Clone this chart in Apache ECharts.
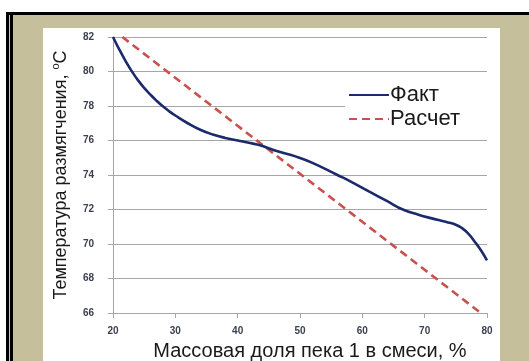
<!DOCTYPE html>
<html>
<head>
<meta charset="utf-8">
<script src="https://cdn.jsdelivr.net/npm/echarts@6/dist/echarts.min.js"></script>
<style>
  html, body { margin: 0; padding: 0; background: #fff; }
  #chart { width: 529px; height: 361px; }
</style>
</head>
<body>
<div id="chart"></div>
<script>
// Softening temperature vs. mass share of pitch 1 in the blend
const xTicks = [20, 30, 40, 50, 60, 70, 80];
const yTicks = [66, 68, 70, 72, 74, 76, 78, 80, 82];

// measured curve ("Факт"): share, %  ->  temperature, °C
const factShare = [20, 21, 22, 23, 24, 25, 26, 27, 28, 29, 30, 32, 34, 36, 38, 40, 42, 43.6, 46, 49.5, 52, 56, 58, 61.2, 64, 66.5, 69, 71, 73.5, 75, 76, 77, 78, 79, 80];
const factTemp  = [82, 81.28, 80.62, 80.02, 79.5, 79.05, 78.66, 78.3, 77.98, 77.7, 77.45, 77.0, 76.62, 76.35, 76.15, 76.0, 75.85, 75.72, 75.42, 75.05, 74.7, 74.0, 73.65, 73.02, 72.48, 72.0, 71.7, 71.5, 71.28, 71.12, 70.92, 70.6, 70.15, 69.65, 69.05];

// calculated straight line ("Расчет")
const calcShare = [21.5, 79];
const calcTemp  = [82, 66];

const zip = (a, b) => a.map((v, i) => [v, b[i]]);

const chart = echarts.init(document.getElementById('chart'), null, { renderer: 'canvas' });

const FONT = 'Liberation Sans, Arial, sans-serif';
const tickFont = { fontSize: 10, fontWeight: 'bold', color: '#3b4150', fontFamily: FONT };

chart.setOption({
  backgroundColor: '#ffffff',
  animation: false,
  graphic: [
    // outer frame: double black rule on top/left, khaki panel, white chart area
    { type: 'rect', z: -10, shape: { x: 6, y: 12, width: 523, height: 349 }, style: { fill: '#000000' } },
    { type: 'rect', z: -9, shape: { x: 9, y: 15, width: 520, height: 346 }, style: { fill: '#c9c9c9' } },
    { type: 'rect', z: -8, shape: { x: 10, y: 15, width: 519, height: 346 }, style: { fill: '#000000' } },
    { type: 'rect', z: -7, shape: { x: 13, y: 15, width: 516, height: 346 }, style: { fill: '#c6bf9c' } },
    { type: 'rect', z: -6, shape: { x: 43, y: 28, width: 457, height: 333 }, style: { fill: '#ffffff' } }
  ],
  grid: { left: 113, right: 42, top: 37, bottom: 48, outerBoundsMode: 'none', containLabel: false },
  legend: {
    orient: 'vertical',
    left: 345,
    top: 80,
    padding: [4, 40, 6, 3],
    backgroundColor: '#ffffff',
    itemWidth: 40,
    itemHeight: 14,
    itemGap: 2,
    itemStyle: { opacity: 0 },
    textStyle: { fontSize: 22, color: '#1a1a1a', fontFamily: FONT, padding: [0, 0, 0, -4] },
    data: ['Факт', 'Расчет']
  },
  xAxis: {
    type: 'value',
    min: 20, max: 80, interval: 10,
    name: 'Массовая доля пека 1 в смеси, %',
    nameLocation: 'middle',
    nameGap: 28,
    nameTextStyle: { fontSize: 20, color: '#1a1a1a', fontFamily: FONT, padding: [0, 0, 0, 20], verticalAlign: 'top' },
    axisLine: { show: true, lineStyle: { color: '#a6a6a6', width: 1 } },
    axisTick: { show: true, inside: false, length: 5, lineStyle: { color: '#a6a6a6' } },
    axisLabel: Object.assign({ margin: 13 }, tickFont),
    splitLine: { show: false }
  },
  yAxis: {
    type: 'value',
    min: 66, max: 82, interval: 2,
    name: '{a|Температура размягчения, }{s|o}{a|C}',
    nameLocation: 'middle',
    nameGap: 41,
    nameRotate: 90,
    nameTextStyle: {
      rich: {
        a: { fontSize: 18, lineHeight: 22, color: '#1a1a1a', fontFamily: FONT },
        s: { fontSize: 11, lineHeight: 22, verticalAlign: 'top', color: '#1a1a1a', fontFamily: FONT }
      }
    },
    axisLine: { show: true, lineStyle: { color: '#a6a6a6', width: 1 } },
    axisTick: { show: true, inside: false, length: 5, lineStyle: { color: '#a6a6a6' } },
    axisLabel: Object.assign({ margin: 19 }, tickFont),
    splitLine: { show: true, lineStyle: { color: '#a6a6a6', width: 1 } }
  },
  series: [
    {
      name: 'Факт',
      type: 'line',
      data: zip(factShare, factTemp),
      smooth: 0.5,
      symbol: 'none',
      lineStyle: { color: '#1b2a6b', width: 2.6 },
      itemStyle: { color: '#1b2a6b' },
      z: 3
    },
    {
      name: 'Расчет',
      type: 'line',
      data: zip(calcShare, calcTemp),
      symbol: 'none',
      lineStyle: { color: '#c9504e', width: 2.6, type: [8, 5] },
      itemStyle: { color: '#c9504e' },
      z: 2
    }
  ]
});
</script>
</body>
</html>
